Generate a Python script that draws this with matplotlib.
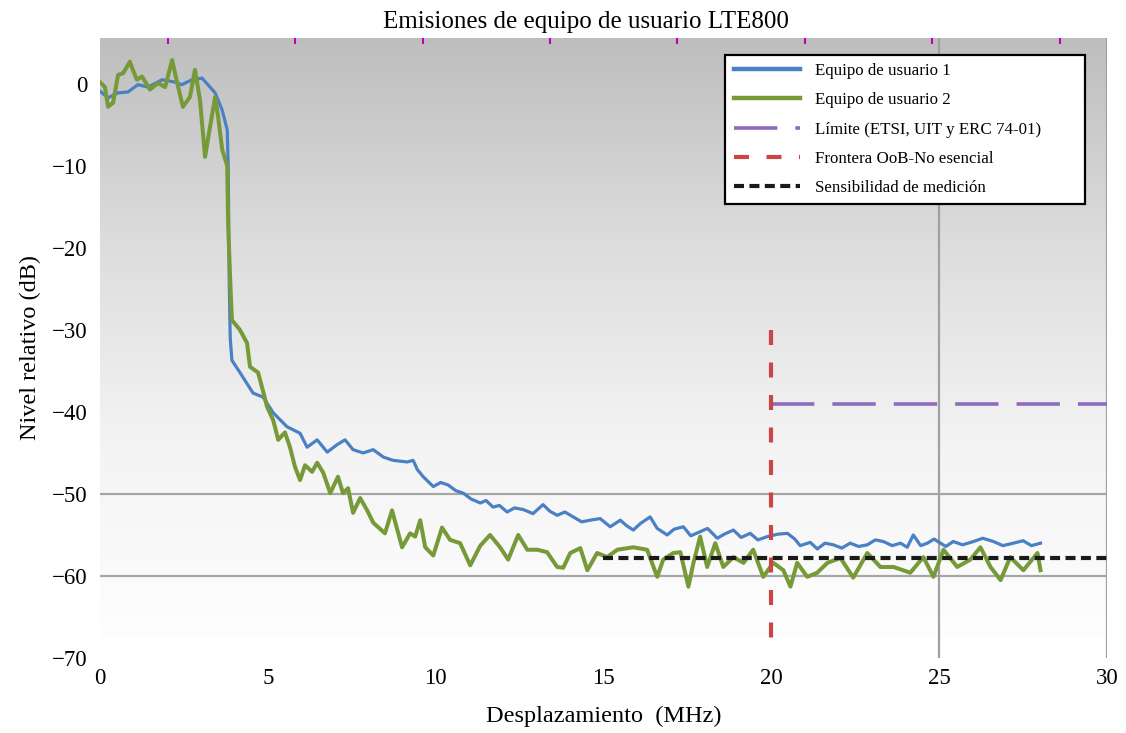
import numpy as np
import matplotlib
matplotlib.use('Agg')
import matplotlib.pyplot as plt
from matplotlib.colors import LinearSegmentedColormap

plt.rcParams['font.family'] = ['Liberation Serif', 'DejaVu Serif']

# Equipo de usuario 1 (MHz, dB)
ue1_x = [0.00, 0.24, 0.54, 0.83, 1.13, 1.43, 1.85, 2.24, 2.44, 2.74, 3.04, 3.43, 3.64, 3.79,
         3.82, 3.85, 3.88, 3.93, 4.17, 4.56, 4.86, 5.16, 5.57, 5.96, 6.17, 6.47, 6.77, 7.06,
         7.30, 7.54, 7.84, 8.14, 8.44, 8.73, 9.15, 9.33, 9.45, 9.63, 9.93, 10.15, 10.37, 10.6,
         10.82, 11.05, 11.33, 11.5, 11.71, 11.9, 12.13, 12.35, 12.61, 12.9, 13.20, 13.4, 13.62,
         13.85, 14.10, 14.35, 14.60, 14.9, 15.20, 15.50, 15.7, 15.89, 16.1, 16.39, 16.6, 16.90,
         17.1, 17.38, 17.6, 17.88, 18.1, 18.39, 18.6, 18.87, 19.1, 19.37, 19.6, 19.88, 20.2,
         20.48, 20.7, 20.86, 21.16, 21.37, 21.6, 21.85, 22.1, 22.35, 22.6, 22.86, 23.1, 23.34,
         23.6, 23.85, 24.05, 24.23, 24.45, 24.65, 24.85, 25.04, 25.2, 25.42, 25.7, 26.02, 26.3,
         26.62, 26.9, 27.21, 27.5, 27.75, 28.02]
ue1_y = [-0.9, -1.7, -1.1, -1.0, -0.1, -0.4, 0.5, 0.2, -0.1, 0.5, 0.7, -1.1, -3.2, -5.6,
         -10.0, -24.0, -31.0, -33.7, -35.2, -37.7, -38.2, -40.1, -41.8, -42.6, -44.3, -43.4, -44.9, -44.0,
         -43.4, -44.6, -45.0, -44.6, -45.5, -45.9, -46.1, -45.9, -47.0, -47.9, -49.1, -48.6, -48.9, -49.6,
         -49.9, -50.6, -51.1, -50.8, -51.6, -51.4, -52.2, -51.7, -51.9, -52.4, -51.3, -52.1, -52.6,
         -52.2, -52.8, -53.4, -53.2, -53.0, -54.0, -53.2, -53.9, -54.4, -53.6, -52.8, -54.2, -55.0,
         -54.3, -54.0, -55.1, -54.6, -54.2, -55.4, -54.9, -54.4, -55.3, -54.8, -55.6, -55.2, -54.9,
         -54.8, -55.5, -56.3, -55.9, -56.7, -56.0, -56.2, -56.6, -56.0, -56.4, -56.2, -55.6, -55.8,
         -56.3, -56.0, -56.5, -55.0, -56.3, -56.0, -55.5, -56.0, -56.4, -55.8, -56.2, -55.8, -55.4,
         -55.8, -56.3, -56.0, -55.7, -56.3, -56.0]

# Equipo de usuario 2 (MHz, dB)
ue2_x = [0.00, 0.15, 0.24, 0.39, 0.54, 0.69, 0.89, 0.98, 1.10, 1.25, 1.49, 1.73, 1.94, 2.15,
         2.30, 2.47, 2.68, 2.83, 2.98, 3.13, 3.28, 3.43, 3.52, 3.64, 3.79, 3.82, 3.88, 3.93,
         4.17, 4.38, 4.47, 4.71, 4.86, 4.98, 5.16, 5.31, 5.51, 5.66, 5.81, 5.96, 6.11, 6.32,
         6.47, 6.65, 6.86, 7.09, 7.24, 7.39, 7.54, 7.75, 7.96, 8.14, 8.49, 8.70, 9.00, 9.24,
         9.39, 9.54, 9.69, 9.93, 10.19, 10.43, 10.73, 11.03, 11.33, 11.62, 11.92, 12.16, 12.46,
         12.73, 13.03, 13.32, 13.62, 13.80, 14.01, 14.31, 14.52, 14.81, 15.11, 15.41, 15.89,
         16.30, 16.60, 16.78, 17.08, 17.29, 17.53, 17.68, 17.88, 18.09, 18.33, 18.57, 18.87,
         19.17, 19.46, 19.76, 20.06, 20.36, 20.57, 20.77, 21.07, 21.37, 21.67, 22.06, 22.44,
         22.86, 23.25, 23.64, 24.14, 24.53, 24.83, 25.13, 25.54, 25.93, 26.23, 26.53, 26.83,
         27.12, 27.51, 27.93, 28.02]
ue2_y = [0.2, -0.4, -2.8, -2.3, 1.1, 1.3, 2.7, 1.7, 0.5, 0.9, -0.7, 0.1, -0.4, 2.9,
         0.1, -2.8, -1.6, 1.7, -2.0, -8.9, -5.2, -1.6, -4.0, -8.0, -10.0, -17.4, -24.0, -28.8,
         -30.0, -31.6, -34.5, -35.2, -37.5, -39.4, -41.0, -43.4, -42.5, -44.3, -46.7, -48.3, -46.5, -47.3,
         -46.2, -47.4, -49.9, -47.9, -49.9, -49.3, -52.3, -50.5, -52.0, -53.5, -54.8, -52.0, -56.5, -54.8,
         -55.2, -53.2, -56.5, -57.5, -54.1, -55.6, -56.0, -58.7, -56.3, -55.0, -56.5, -58.0, -55.0,
         -56.8, -56.8, -57.1, -58.9, -59.0, -57.2, -56.6, -59.3, -57.2, -57.7, -56.8, -56.5,
         -56.8, -60.1, -58.0, -57.2, -57.1, -61.3, -58.4, -55.2, -58.9, -56.0, -58.9, -57.7,
         -58.4, -56.8, -60.1, -58.4, -59.3, -61.3, -58.4, -60.1, -59.6, -58.4, -57.8, -60.2,
         -57.2, -58.9, -58.9, -59.6, -57.7, -60.1, -56.8, -58.9, -58.0, -56.5, -58.9, -60.5,
         -57.7, -59.3, -57.2, -59.3]

limit_x = [20, 30]
limit_y = [-39, -39]
border_x = [20, 20]
border_y = [-30, -68.5]
sens_x = [15, 30]
sens_y = [-57.8, -57.8]

top_marks = [2.03, 5.82, 9.61, 13.4, 17.2, 21.0, 24.8, 28.6]

fig = plt.figure(figsize=(11.26, 7.33), dpi=100)
ax = fig.add_axes([0.0888, 0.1023, 0.8943, 0.846])

# fondo degradado
grad = np.linspace(0, 1, 256).reshape(-1, 1)
cmap_bg = LinearSegmentedColormap.from_list('bg', ['#fefefe', '#f3f3f3', '#dcdcdc', '#bebebe'])
ax.imshow(grad, extent=[0, 30, -67.4, 5.6], origin='lower', aspect='auto', cmap=cmap_bg, zorder=0)

for yv in [-50, -60]:
    ax.plot([0, 30], [yv, yv], color='#a6a6a6', lw=1.6, zorder=1)
for xv in [25, 30]:
    ax.axvline(xv, color='#a0a0a0', lw=1.6, zorder=1)

ax.plot(ue1_x, ue1_y, color='#4a80c4', lw=2.3, label='Equipo de usuario 1', zorder=3)
ax.plot(ue2_x, ue2_y, color='#779a39', lw=2.9, label='Equipo de usuario 2', zorder=4)
ax.plot(limit_x, limit_y, color='#8e6bbd', lw=2.6, dashes=(12, 5), label='Límite (ETSI, UIT y ERC 74-01)', zorder=5)
ax.plot(border_x, border_y, color='#cc4444', lw=3, dashes=(3.6, 4.2), label='Frontera OoB-No esencial', zorder=6)
ax.plot(sens_x, sens_y, color='#1a1a1a', lw=3, dashes=(2.4, 1.3), label='Sensibilidad de medición', zorder=5)

ax.set_xlim(0, 30)
ax.set_ylim(-70, 5.6)
ax.set_xticks([0, 5, 10, 15, 20, 25, 30])
ax.set_yticks([0, -10, -20, -30, -40, -50, -60, -70])
ax.tick_params(length=0, labelsize=16.5, pad=9)
ax.tick_params(axis='x', pad=7)
for s in ax.spines.values():
    s.set_visible(False)

top = ax.secondary_xaxis('top')
top.set_xticks(top_marks)
top.set_xticklabels([])
top.tick_params(direction='in', length=4, width=1.5, color='#c000c0')
top.spines['top'].set_visible(False)

ax.set_title('Emisiones de equipo de usuario LTE800', fontsize=18, pad=7, x=0.483)
ax.set_xlabel('Desplazamiento  (MHz)', fontsize=17.5, labelpad=12)
ax.set_ylabel('Nivel relativo (dB)', fontsize=17.5, labelpad=8)

leg = ax.legend(loc='upper left', bbox_to_anchor=(0.621, 0.734, 0.357, 0.239), mode='expand',
                fontsize=12.2, handlelength=3.9, frameon=True, fancybox=False,
                borderaxespad=0, labelspacing=0.78, handletextpad=0.9, borderpad=0.5)
leg.get_frame().set_edgecolor('black')
leg.get_frame().set_linewidth(1.6)
leg.get_frame().set_alpha(1)
for ln in leg.get_lines()[:2]:
    ln.set_linewidth(3.2)

fig.savefig('out.png', dpi=100)
